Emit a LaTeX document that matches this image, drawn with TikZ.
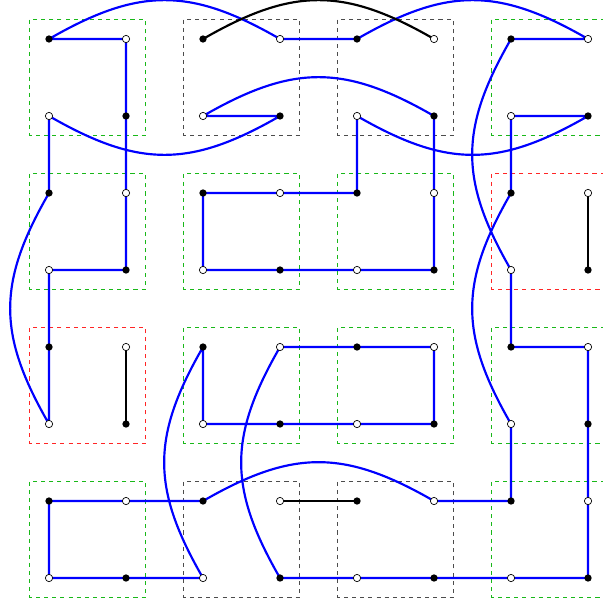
\documentclass[tikz,border=0pt]{standalone}
\definecolor{boxgreen}{rgb}{0.1,0.72,0.1}
\definecolor{boxred}{rgb}{1,0.15,0.15}
\definecolor{boxgray}{rgb}{0.3,0.3,0.3}

\begin{document}
\begin{tikzpicture}
\useasboundingbox (-1.273,1.013) rectangle (14.364,-14.649);

\tikzset
{%样式
  cellbox/.style={dashed,line width=1pt},
  gbox/.style={cellbox,draw=boxgreen},
  kbox/.style={cellbox,draw=boxgray},
  rbox/.style={cellbox,draw=boxred},
  blueline/.style={draw=blue,line width=1.6pt,line join=round},
  blackline/.style={draw=black,line width=1.6pt},
  hump/.style={bend left=30,looseness=1.15},
  dip/.style={bend right=30,looseness=1.15},
  fdot/.style={circle,fill=black,inner sep=0pt,minimum size=5.4pt},
  odot/.style={circle,draw=black,fill=white,line width=0.5pt,inner sep=0pt,minimum size=5.4pt},
}

\foreach \i in {0,...,7}
  \foreach \j in {0,...,7}
    \coordinate (p\i\j) at (2*\i,-2*\j);

\path[gbox] (-0.5,0.5) rectangle (2.5,-2.5);
\path[kbox] (3.5,0.5) rectangle (6.5,-2.5);
\path[kbox] (7.5,0.5) rectangle (10.5,-2.5);
\path[gbox] (11.5,0.5) rectangle (14.5,-2.5);
\path[gbox] (-0.5,-3.5) rectangle (2.5,-6.5);
\path[gbox] (3.5,-3.5) rectangle (6.5,-6.5);
\path[gbox] (7.5,-3.5) rectangle (10.5,-6.5);
\path[rbox] (11.5,-3.5) rectangle (14.5,-6.5);
\path[rbox] (-0.5,-7.5) rectangle (2.5,-10.5);
\path[gbox] (3.5,-7.5) rectangle (6.5,-10.5);
\path[gbox] (7.5,-7.5) rectangle (10.5,-10.5);
\path[gbox] (11.5,-7.5) rectangle (14.5,-10.5);
\path[gbox] (-0.5,-11.5) rectangle (2.5,-14.5);
\path[kbox] (3.5,-11.5) rectangle (6.5,-14.5);
\path[kbox] (7.5,-11.5) rectangle (10.5,-14.5);
\path[gbox] (11.5,-11.5) rectangle (14.5,-14.5);

\path[blueline] (p00) -- (p10) -- (p11) -- (p12) -- (p13) -- (p03) -- (p04) -- (p05)
  to[hump] (p02) -- (p01) to[dip] (p31) -- (p21) to[hump] (p51) -- (p52) -- (p53)
  -- (p43) -- (p33) -- (p23) -- (p22) -- (p32) -- (p42) -- (p41) to[dip] (p71)
  -- (p61) -- (p62) to[dip] (p65) -- (p66) -- (p56) to[dip] (p26) -- (p16) -- (p06)
  -- (p07) -- (p17) -- (p27) to[hump] (p24) -- (p25) -- (p35) -- (p45) -- (p55)
  -- (p54) -- (p44) -- (p34) to[dip] (p37) -- (p47) -- (p57) -- (p67) -- (p77)
  -- (p76) -- (p75) -- (p74) -- (p64) -- (p63) to[hump] (p60) -- (p70) to[dip] (p40)
  -- (p30) to[dip] (p00);

\path[blackline] (p20) to[hump] (p50);
\path[blackline] (p36) -- (p46);
\path[blackline] (p14) -- (p15);
\path[blackline] (p72) -- (p73);

\foreach \i in {0,...,7}
  \foreach \j in {0,...,7}
  {
    \pgfmathtruncatemacro\k{mod(\i+\j,2)}
    \ifnum\k=0
      \node[fdot] (d\i\j) at (p\i\j) {};
    \else
      \node[odot] (d\i\j) at (p\i\j) {};
    \fi
  }
\end{tikzpicture}
\end{document}
